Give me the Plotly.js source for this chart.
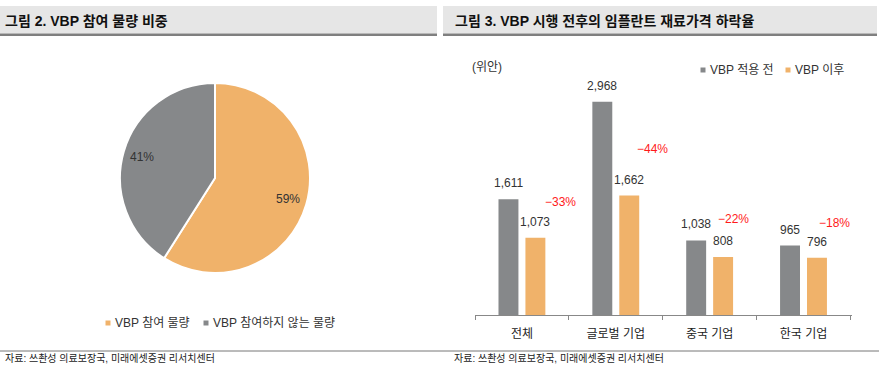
<!DOCTYPE html>
<html>
<head>
<meta charset="utf-8">
<script src="https://cdn.plot.ly/plotly-3.0.1.min.js"></script>
<style>
  html, body { margin: 0; padding: 0; background: #fff; }
  #chart { width: 879px; height: 374px; }
</style>
</head>
<body>
<div id="chart"></div>
<script>
// ---- data ----
const titleLeft = '그림 2. VBP 참여 물량 비중';
const titleRight = '그림 3. VBP 시행 전후의 임플란트 재료가격 하락율';
const sourceText = '자료: 쓰촨성 의료보장국, 미래에셋증권 리서치센터';

const pieLabels = ['VBP 참여 물량', 'VBP 참여하지 않는 물량'];
const pieValues = [59, 41];

const categories = ['전체', '글로벌 기업', '중국 기업', '한국 기업'];
const beforeVBP = [1611, 2968, 1038, 965];
const afterVBP = [1073, 1662, 808, 796];
const changeLabels = ['\u221233%', '\u221244%', '\u221222%', '\u221218%'];
const seriesNames = ['VBP 적용 전', 'VBP 이후'];
const unitLabel = '(위안)';

// ---- style / layout constants ----
const W = 879, H = 374;
const GRAY = '#86888a';
const ORANGE = '#f0b26a';
const FONT = 'Liberation Sans, Noto Sans CJK KR, sans-serif';
const px = x => x / W;
const py = y => 1 - y / H;
const barHalfOffset = 13.5;           // px between category centre and bar centre
const pctDx = [39, 37, 24, 31];       // label offsets relative to category centre (px)
const pctDy = [36, 47, 38, 35];       // label offsets above the "after" bar (px)

const pieDomain = { x: [px(120), px(310)], y: [py(273), py(83)] };
const pieRadiusPx = 95;
const pieLabelRadius = 0.8;

const traces = [
  {
    type: 'pie',
    labels: pieLabels,
    values: pieValues,
    sort: false,
    direction: 'clockwise',
    rotation: 0,
    marker: { colors: [ORANGE, GRAY], line: { color: '#ffffff', width: 2 } },
    textinfo: 'none',
    domain: pieDomain,
    hoverinfo: 'none',
    showlegend: false
  },
  {
    type: 'bar',
    name: seriesNames[0],
    x: categories,
    y: beforeVBP,
    marker: { color: GRAY },
    hoverinfo: 'none',
    showlegend: false
  },
  {
    type: 'bar',
    name: seriesNames[1],
    x: categories,
    y: afterVBP,
    marker: { color: ORANGE },
    hoverinfo: 'none',
    showlegend: false
  }
];

const annotations = [];
const shapes = [];

// title bars
[[0, 437, titleLeft, 3], [443, 877, titleRight, 453]].forEach(([x0, x1, txt, tx]) => {
  shapes.push({ type: 'rect', xref: 'paper', yref: 'paper', x0: px(x0), x1: px(x1),
    y0: py(33.5), y1: py(6), fillcolor: '#e6e6e6', line: { width: 0 }, layer: 'below' });
  shapes.push({ type: 'line', xref: 'paper', yref: 'paper', x0: px(x0), x1: px(x1),
    y0: py(34.7), y1: py(34.7), line: { color: '#7f7f7f', width: 2.5 } });
  annotations.push({ xref: 'paper', yref: 'paper', x: px(tx), y: py(20.5), xanchor: 'left', yanchor: 'middle',
    text: txt, showarrow: false, font: { family: FONT, size: 14, color: '#111111', weight: 'bold' } });
});

// footer
shapes.push({ type: 'line', xref: 'paper', yref: 'paper', x0: 0, x1: 1, y0: py(351), y1: py(351),
  line: { color: '#777777', width: 1 } });
[3, 452].forEach(tx => {
  annotations.push({ xref: 'paper', yref: 'paper', x: px(tx), y: py(358.5), xanchor: 'left', yanchor: 'middle',
    text: sourceText, showarrow: false, font: { family: FONT, size: 10, color: '#222222' } });
});

// custom legends
function legendItem(sx, sy, color, label) {
  shapes.push({ type: 'rect', xref: 'paper', yref: 'paper', x0: px(sx - 2.5), x1: px(sx + 2.5),
    y0: py(sy + 2.5), y1: py(sy - 2.5), fillcolor: color, line: { width: 0 } });
  annotations.push({ xref: 'paper', yref: 'paper', x: px(sx + 5), y: py(sy), xanchor: 'left', yanchor: 'middle',
    text: label, showarrow: false, font: { family: FONT, size: 12, color: '#333333' } });
}
legendItem(108, 323, ORANGE, pieLabels[0]);
legendItem(206, 323, GRAY, pieLabels[1]);
legendItem(703, 70, GRAY, seriesNames[0]);
legendItem(788, 70, ORANGE, seriesNames[1]);

// pie percentage labels, placed on each slice's mid-angle (derived from the values)
(function () {
  const total = pieValues.reduce((a, b) => a + b, 0);
  const cx = (pieDomain.x[0] + pieDomain.x[1]) / 2;
  const cy = (pieDomain.y[0] + pieDomain.y[1]) / 2;
  let cum = 0;
  pieValues.forEach(v => {
    const mid = (cum + v / 2) / total * 2 * Math.PI;  // clockwise from 12 o'clock
    cum += v;
    const r = pieRadiusPx * pieLabelRadius;
    annotations.push({ xref: 'paper', yref: 'paper',
      x: cx + r * Math.sin(mid) / W, y: cy + r * Math.cos(mid) / H,
      xanchor: 'center', yanchor: 'middle', showarrow: false,
      text: Math.round(v / total * 100) + '%',
      font: { family: FONT, size: 12, color: '#333333' } });
  });
})();

// unit label
annotations.push({ xref: 'paper', yref: 'paper', x: px(470), y: py(67), xanchor: 'left', yanchor: 'middle',
  text: unitLabel, showarrow: false, font: { family: FONT, size: 12, color: '#333333' } });

// value labels and change labels
categories.forEach((c, i) => {
  annotations.push({ xref: 'x', yref: 'y', x: c, y: beforeVBP[i], xshift: -barHalfOffset, yshift: 16,
    yanchor: 'middle', text: beforeVBP[i].toLocaleString('en-US'), showarrow: false,
    font: { family: FONT, size: 12, color: '#333333' } });
  annotations.push({ xref: 'x', yref: 'y', x: c, y: afterVBP[i], xshift: barHalfOffset, yshift: 16,
    yanchor: 'middle', text: afterVBP[i].toLocaleString('en-US'), showarrow: false,
    font: { family: FONT, size: 12, color: '#333333' } });
  annotations.push({ xref: 'x', yref: 'y', x: c, y: afterVBP[i], xshift: pctDx[i], yshift: pctDy[i],
    yanchor: 'middle', text: changeLabels[i], showarrow: false,
    font: { family: FONT, size: 12, color: '#ff1a1a' } });
});

const layout = {
  width: W, height: H,
  margin: { l: 0, r: 0, t: 0, b: 0 },
  paper_bgcolor: '#ffffff',
  plot_bgcolor: 'rgba(0,0,0,0)',
  font: { family: FONT, size: 12, color: '#333333' },
  barmode: 'group',
  bargap: 0.426,
  bargroupgap: 0.26,
  showlegend: false,
  xaxis: {
    domain: [px(475), px(852)],
    type: 'category',
    showline: true, linecolor: '#888888', linewidth: 1,
    ticks: 'outside', tickson: 'boundaries', ticklen: 4, tickcolor: '#888888', tickwidth: 1,
    ticklabelstandoff: 8,
    tickfont: { family: FONT, size: 12, color: '#222222' },
    showgrid: false, zeroline: false, fixedrange: true
  },
  yaxis: {
    domain: [py(315), py(60)],
    range: [0, 3547],
    visible: false, showgrid: false, zeroline: false, fixedrange: true
  },
  shapes: shapes,
  annotations: annotations
};

Plotly.newPlot('chart', traces, layout, { staticPlot: true, displayModeBar: false });
</script>
</body>
</html>
